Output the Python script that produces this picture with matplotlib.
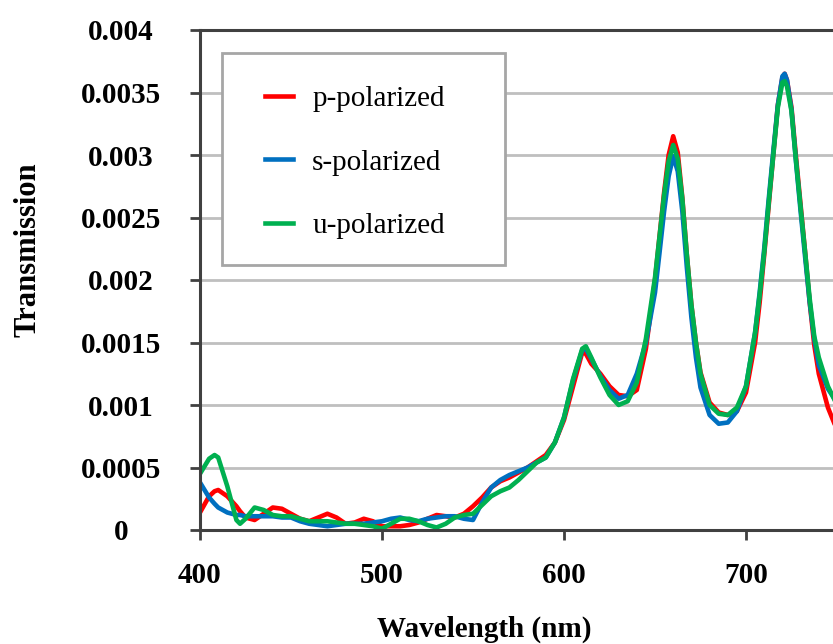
import matplotlib.pyplot as plt
from matplotlib.patches import Rectangle

# wavelength grid (nm)
wavelength = [
    400, 405, 408, 410, 415, 420, 422, 425, 430, 435, 440, 445,
    450, 455, 460, 465, 470, 475, 480, 485, 490, 495,
    500, 505, 510, 515, 520, 525, 530, 535, 540, 545,
    550, 555, 560, 565, 570, 575, 580, 585, 590, 595,
    600, 605, 610, 612, 615, 620, 625, 630, 635, 640, 645,
    650, 652.5, 655, 657.5, 660, 662.5, 665, 667.5, 670, 672.5,
    675, 680, 685, 690, 695, 700, 705, 707.5, 710, 712.5,
    715, 717.5, 720, 721.25, 722.5, 725, 727.5, 730, 732.5, 735, 737.5,
    740, 745, 750]

p_pol = [
    0.00014, 0.00027, 0.00031, 0.00032, 0.00027, 0.00019, 0.00015, 0.00010, 0.00008, 0.00013, 0.00018, 0.00017,
    0.00013, 0.00009, 0.00007, 0.00010, 0.00013, 0.00010, 0.00005, 0.00006, 0.00009, 0.00007,
    0.00003, 0.00003, 0.00003, 0.00004, 0.00006, 0.00009, 0.00012, 0.00011, 0.00010, 0.00013,
    0.00019, 0.00026, 0.00034, 0.00039, 0.00042, 0.00046, 0.00050, 0.00055, 0.00060, 0.00070,
    0.00088, 0.00115, 0.00142, 0.00141, 0.00133, 0.00125, 0.00115, 0.00108, 0.00107, 0.00112, 0.00145,
    0.00200, 0.00235, 0.00270, 0.00300, 0.00315, 0.00302, 0.00266, 0.00220, 0.00180, 0.00150,
    0.00126, 0.00102, 0.00094, 0.00092, 0.00095, 0.00110, 0.00150, 0.00182, 0.00220, 0.00260,
    0.00300, 0.00340, 0.00362, 0.00365, 0.00360, 0.00338, 0.00298, 0.00260, 0.00222, 0.00182, 0.00148,
    0.00125, 0.00098, 0.00080]

s_pol = [
    0.00038, 0.00026, 0.00021, 0.00018, 0.00014, 0.00012, 0.00012, 0.00011, 0.00011, 0.00011, 0.00011, 0.00010,
    0.00010, 0.00007, 0.00005, 0.00004, 0.00003, 0.00004, 0.00005, 0.00005, 0.00005, 0.00006,
    0.00007, 0.00009, 0.00010, 0.00008, 0.00007, 0.00009, 0.00010, 0.00011, 0.00011, 0.00009,
    0.00008, 0.00022, 0.00034, 0.00040, 0.00044, 0.00047, 0.00050, 0.00054, 0.00058, 0.00070,
    0.00090, 0.00120, 0.00144, 0.00145, 0.00137, 0.00123, 0.00112, 0.00105, 0.00108, 0.00125, 0.00150,
    0.00190, 0.00222, 0.00255, 0.00283, 0.00299, 0.00287, 0.00255, 0.00210, 0.00170, 0.00138,
    0.00114, 0.00092, 0.00085, 0.00086, 0.00095, 0.00115, 0.00158, 0.00190, 0.00225, 0.00265,
    0.00303, 0.00340, 0.00363, 0.00365, 0.00360, 0.00336, 0.00294, 0.00255, 0.00218, 0.00182, 0.00153,
    0.00132, 0.00113, 0.00102]

u_pol = [
    0.00045, 0.00057, 0.00060, 0.00058, 0.00035, 0.00008, 0.00005, 0.00009, 0.00018, 0.00016, 0.00012, 0.00011,
    0.00011, 0.00009, 0.00007, 0.00007, 0.00007, 0.00006, 0.00005, 0.00005, 0.00004, 0.00003,
    0.00001, 0.00005, 0.00009, 0.00009, 0.00007, 0.00004, 0.00002, 0.00005, 0.00010, 0.00012,
    0.00013, 0.00020, 0.00027, 0.00031, 0.00034, 0.00040, 0.00047, 0.00054, 0.00058, 0.00070,
    0.00090, 0.00121, 0.00145, 0.00147, 0.00138, 0.00122, 0.00108, 0.00100, 0.00103, 0.00118, 0.00153,
    0.00202, 0.00235, 0.00268, 0.00295, 0.00308, 0.00297, 0.00265, 0.00220, 0.00180, 0.00150,
    0.00125, 0.00100, 0.00093, 0.00092, 0.00098, 0.00115, 0.00158, 0.00188, 0.00222, 0.00262,
    0.00300, 0.00338, 0.00358, 0.00359, 0.00355, 0.00335, 0.00295, 0.00258, 0.00222, 0.00185, 0.00155,
    0.00138, 0.00115, 0.00100]

xticks = [400, 500, 600, 700]
yticks = [0, 0.0005, 0.001, 0.0015, 0.002, 0.0025, 0.003, 0.0035, 0.004]
ytick_labels = ['0', '0.0005', '0.001', '0.0015', '0.002', '0.0025', '0.003', '0.0035', '0.004']

plt.rcParams['font.family'] = ['Liberation Serif', 'DejaVu Serif']
plt.rcParams['font.weight'] = 'bold'

fig = plt.figure(figsize=(8.33, 6.44), dpi=100)
# plot area runs a little past the right edge, like the cropped original
ax = fig.add_axes([200 / 833, 114 / 644, 637 / 833, 500 / 644])

ax.plot(wavelength, p_pol, color='#FF0000', lw=3.3, label='p-polarized', solid_joinstyle='round')
ax.plot(wavelength, s_pol, color='#0070C0', lw=3.3, label='s-polarized', solid_joinstyle='round')
ax.plot(wavelength, u_pol, color='#00B050', lw=3.3, label='u-polarized', solid_joinstyle='round')

ax.set_xlim(400, 750)
ax.set_ylim(0, 0.004)
ax.set_xticks(xticks)
ax.set_yticks(yticks, ytick_labels, ha='center')

ax.grid(axis='y', color='#BFBFBF', lw=2)
ax.set_axisbelow(True)
for side in ['left', 'bottom', 'top']:
    ax.spines[side].set_color('#404040')
    ax.spines[side].set_linewidth(2.2)
ax.spines['right'].set_visible(False)

ax.tick_params(axis='both', direction='out', length=7, width=2, color='#404040', labelsize=21)
ax.tick_params(axis='y', pad=50)
ax.tick_params(axis='x', pad=16)

ax.set_xlabel('Wavelength (nm)', fontsize=21, fontweight='bold')
ax.xaxis.set_label_coords(0.446, -0.171)
ax.set_ylabel('Transmission', fontsize=22, fontweight='bold', va='center')
ax.yaxis.set_label_coords(-0.27, 0.56)

# legend box drawn separately so the entries can sit where they do in the original
frame = Rectangle((0.0345, 0.53), 0.444, 0.424, transform=ax.transAxes,
                  facecolor='white', edgecolor='#A6A6A6', lw=2, zorder=4)
ax.add_patch(frame)
leg = ax.legend(loc='upper left', bbox_to_anchor=(0.102, 0.889),
                prop={'weight': 'normal', 'size': 21}, frameon=False,
                borderpad=0, labelspacing=1.28, handlelength=0.97,
                handletextpad=0.65, borderaxespad=0)
leg.set_zorder(5)

fig.savefig('out.png', dpi=100)
